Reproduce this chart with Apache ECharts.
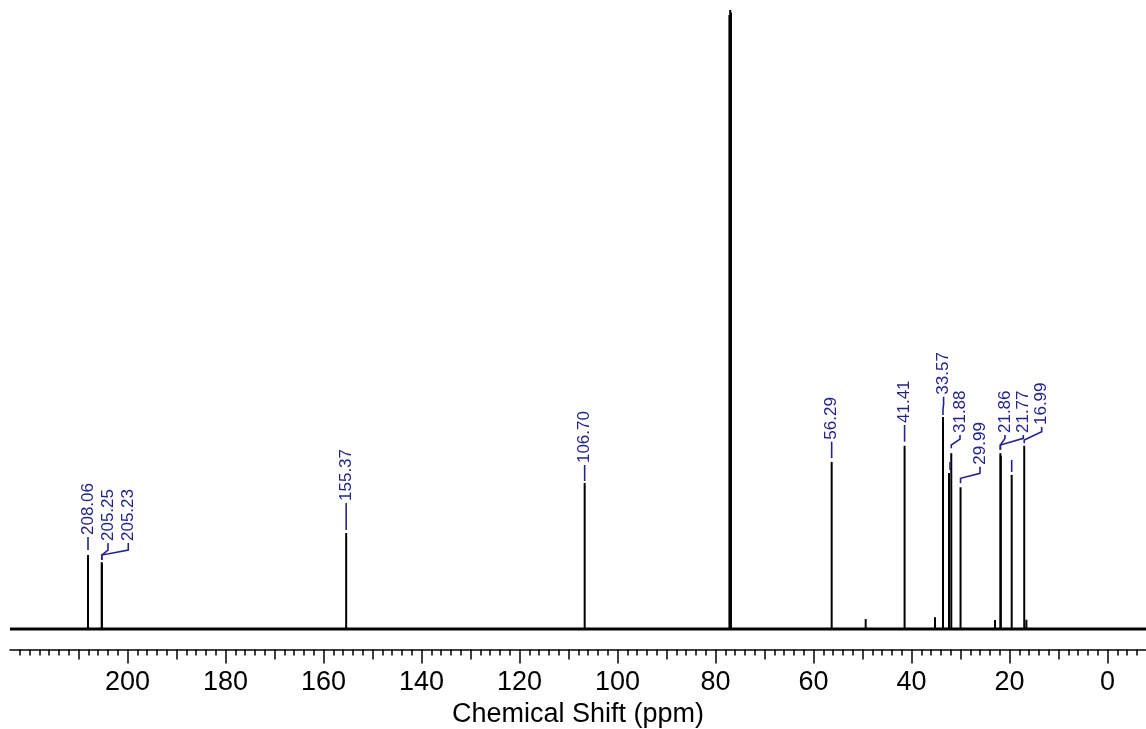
<!DOCTYPE html>
<html>
<head>
<meta charset="utf-8">
<script src="https://cdn.jsdelivr.net/npm/echarts@6/dist/echarts.min.js"></script>
<style>
html,body{margin:0;padding:0;background:#fff;}
#chart{width:1146px;height:729px;}
</style>
</head>
<body>
<div id="chart"></div>
<script>
// ---- axis range (ppm, reversed) ----
const axisMinPpm = -7.86;
const axisMaxPpm = 223.98;
const majorTicks = [0, 20, 40, 60, 80, 100, 120, 140, 160, 180, 200];
const majorLabels = [0, 20, 40, 60, 80, 100, 120, 140, 160, 180, 200];
const mediumTicks = [10, 30, 50, 70, 90, 110, 130, 150, 170, 190, 210];
const minorTicks = [-6, -4, -2, 2, 4, 6, 8, 12, 14, 16, 18, 22, 24, 26, 28, 32, 34, 36, 38, 42, 44, 46, 48, 52, 54, 56, 58, 62, 64, 66, 68, 72, 74, 76, 78, 82, 84, 86, 88, 92, 94, 96, 98, 102, 104, 106, 108, 112, 114, 116, 118, 122, 124, 126, 128, 132, 134, 136, 138, 142, 144, 146, 148, 152, 154, 156, 158, 162, 164, 166, 168, 172, 174, 176, 178, 182, 184, 186, 188, 192, 194, 196, 198, 202, 204, 206, 208, 212, 214, 216, 218, 220, 222];

// ---- spectrum peaks (ppm, relative intensity) ----
const peakPpm    = [208.06, 205.25, 205.23, 155.37, 106.70, 77.16, 77.00, 76.84, 56.29, 49.35, 41.41, 35.20, 33.57, 32.35, 31.88, 29.99, 22.96, 21.86, 21.77, 19.55, 16.99, 16.55];
const peakHeight = [11.95, 10.8, 10.5, 15.5, 23.6, 99.2, 100, 99.6, 27.0, 1.6, 29.6, 1.9, 34.25, 25.2, 28.4, 22.9, 1.45, 28.4, 28.0, 24.9, 29.6, 1.5];

// ---- peak labels ----
const labelText     = ['208.06', '205.25', '205.23', '155.37', '106.70', '56.29', '41.41', '33.57', '31.88', '29.99', '21.86', '21.77', '16.99', '', ''];
const labelPeak     = [208.06, 205.25, 205.25, 155.37, 106.70, 56.29, 41.41, 33.57, 31.88, 29.99, 21.86, 21.86, 16.99, 32.14, 19.55];
const labelColumn   = [208.06, 203.98, 199.84, 155.37, 106.70, 56.29, 41.41, 33.45, 30.10, 26.02, 20.92, 17.18, 13.43, 32.14, 19.55];
const leaderStart   = [12.76, 11.15, 11.15, 15.99, 23.91, 27.60, 30.26, 34.57, 29.19, 23.54, 28.92, 28.92, 30.00, 25.69, 25.36];
const leaderBend1   = [13.50, 11.95, 11.95, 17.00, 25.00, 28.50, 31.00, 35.50, 29.73, 24.35, 29.73, 29.73, 30.53, 26.00, 26.00];
const leaderBend2   = [13.50, 12.76, 12.76, 17.00, 25.00, 28.50, 31.00, 36.30, 30.69, 25.15, 30.80, 30.80, 31.87, 26.00, 26.00];
const leaderEnd     = [14.86, 13.89, 13.89, 20.36, 26.49, 30.26, 32.96, 37.53, 31.34, 26.22, 31.34, 31.34, 32.63, 26.98, 27.30];

const labelColor = '#23238e';
const fontFam = '"Liberation Sans", Arial, sans-serif';

const barData = peakPpm.map((p, i) => [p, peakHeight[i]]);
const labelData = labelText.map((t, i) => [labelPeak[i], leaderStart[i], leaderBend1[i], labelColumn[i], leaderBend2[i], leaderEnd[i], i]);

const chart = echarts.init(document.getElementById('chart'), null, {renderer: 'canvas'});

function xAxisBase(extra) {
  return Object.assign({
    type: 'value', gridIndex: 0, position: 'bottom', offset: 0,
    min: axisMinPpm, max: axisMaxPpm, inverse: true,
    splitLine: {show: false},
    axisLine: {show: false, onZero: false},
    axisLabel: {show: false}
  }, extra);
}
function tickAxis(values, len) {
  return xAxisBase({
    axisTick: {show: true, customValues: values, length: len, lineStyle: {color: '#000', width: 1.5}}
  });
}

chart.setOption({
  animation: false,
  backgroundColor: '#ffffff',
  grid: {left: 10, right: 0, top: 10, bottom: 79.5, containLabel: false, outerBoundsMode: 'none'},
  xAxis: [
    xAxisBase({
      axisLine: {show: true, onZero: false, lineStyle: {color: '#000', width: 1.6}},
      axisTick: {show: false},
      axisLabel: {show: true, customValues: majorLabels, margin: 20, color: '#000', fontSize: 27, fontFamily: fontFam},
      name: 'Chemical Shift (ppm)', nameLocation: 'middle', nameGap: 52,
      nameTextStyle: {color: '#000', fontSize: 27, fontFamily: fontFam}
    }),
    tickAxis(majorTicks, 14),
    tickAxis(mediumTicks, 10),
    tickAxis(minorTicks, 6)
  ],
  yAxis: {
    type: 'value', min: -3.31, max: 100, show: false,
    axisLine: {show: false}, splitLine: {show: false}
  },
  series: [
    {
      type: 'line', xAxisIndex: 0, yAxisIndex: 0, symbol: 'none',
      data: [[axisMinPpm, 0], [axisMaxPpm, 0]],
      lineStyle: {color: '#000', width: 3}, z: 2
    },
    {
      type: 'bar', xAxisIndex: 0, yAxisIndex: 0, barWidth: 2,
      data: barData, itemStyle: {color: '#000'}, z: 3
    },
    {
      type: 'custom', xAxisIndex: 0, yAxisIndex: 0, z: 4,
      data: labelData,
      renderItem: function (params, api) {
        const p0 = api.coord([api.value(0), api.value(1)]);
        const p1 = api.coord([api.value(0), api.value(2)]);
        const p2 = api.coord([api.value(3), api.value(4)]);
        const p3 = api.coord([api.value(3), api.value(5)]);
        const txt = labelText[api.value(6)];
        const children = [{
          type: 'polyline',
          shape: {points: [p0, p1, p2, p3]},
          style: {stroke: labelColor, lineWidth: 1.6, fill: null}
        }];
        if (txt) {
          children.push({
            type: 'text',
            x: p3[0], y: p3[1] - 2,
            rotation: Math.PI / 2,
            style: {text: txt, x: 0, y: 0, fill: labelColor, font: '17px ' + fontFam, align: 'left', verticalAlign: 'middle'}
          });
        }
        return {type: 'group', children: children};
      }
    }
  ]
});
</script>
</body>
</html>
